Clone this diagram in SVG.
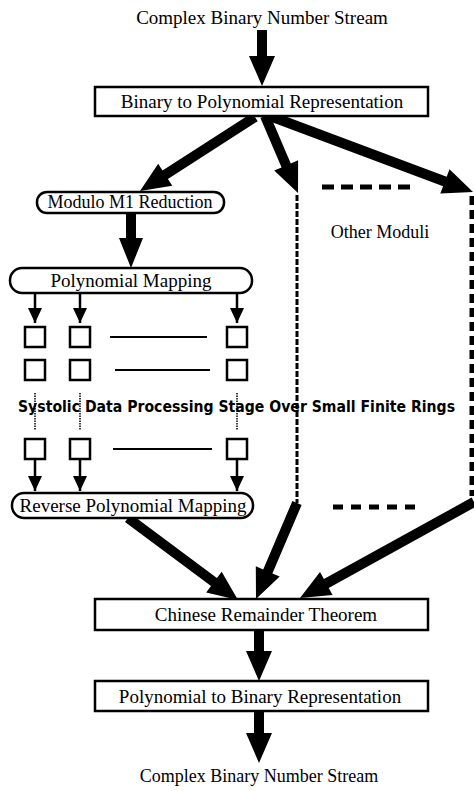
<svg xmlns="http://www.w3.org/2000/svg" width="474" height="791" viewBox="0 0 474 791">
<style>
.lbl{font-family:"Liberation Serif","Times New Roman",serif;font-size:19px;fill:#000;text-anchor:middle}
.box{fill:#fff;stroke:#000;stroke-width:2.5}
.sq{fill:#fff;stroke:#000;stroke-width:2.5}
.fat{fill:#000;stroke:none}
.thin{stroke:#000;stroke-width:2.5;fill:none}
.rough{stroke:#000;stroke-width:1.8}
.dot{stroke:#000;stroke-width:1.5;stroke-dasharray:1.5 1}
.hand{font-family:"DejaVu Sans","Comic Sans MS",sans-serif;font-weight:bold;font-size:16px;fill:#000}
</style>
<defs>
<marker id="ah" markerUnits="userSpaceOnUse" markerWidth="16" markerHeight="16" viewBox="0 0 16 16" refX="15" refY="8" orient="auto">
<path d="M0,1 L15,8 L0,15 z" fill="#000"/>
</marker>
</defs>
<rect width="474" height="791" fill="#fff"/>

<g id="connectors">
<polygon class="fat" points="267,30 267,56 275,56 262,86 249,56 257,56 257,30"/>
<polygon class="fat" points="257.7,121.2 167.9,179.0 172.3,185.7 140,191 158.2,163.8 162.5,170.6 252.3,112.8"/>
<polygon class="fat" points="269.6,114.0 290.8,163.5 298.1,160.3 298,193 274.2,170.6 281.6,167.4 260.4,118.0"/>
<polygon class="fat" points="271.8,111.3 446.7,176.8 449.5,169.3 473,192 440.3,193.6 443.1,186.2 268.2,120.7"/>
<polygon class="fat" points="136,213 136,238 143,238 131,268 119,238 126,238 126,213"/>
<polygon class="fat" points="131.0,514.0 216.9,578.1 221.7,571.7 238,600 206.2,592.5 211.0,586.1 125.0,522.0"/>
<polygon class="fat" points="301.6,505.0 272.4,573.4 279.7,576.5 256,599 255.8,566.3 263.2,569.4 292.4,501.0"/>
<polygon class="fat" points="476.4,506.4 328.7,587.9 332.6,594.9 300,598 320.0,572.1 323.9,579.1 471.6,497.6"/>
<polygon class="fat" points="264,630 264,651 272,651 259,681 246,651 254,651 254,630"/>
<polygon class="fat" points="264,711 264,733 272,733 259,763 246,733 254,733 254,711"/>
<line class="thin" x1="35" y1="293" x2="35" y2="323" marker-end="url(#ah)"/>
<line class="thin" x1="80" y1="293" x2="80" y2="323" marker-end="url(#ah)"/>
<line class="thin" x1="237" y1="293" x2="237" y2="323" marker-end="url(#ah)"/>
<line class="thin" x1="35" y1="460" x2="35" y2="491" marker-end="url(#ah)"/>
<line class="thin" x1="80" y1="460" x2="80" y2="491" marker-end="url(#ah)"/>
<line class="thin" x1="237" y1="460" x2="237" y2="491" marker-end="url(#ah)"/>
<line class="dot" x1="35" y1="393" x2="35" y2="430"/>
<line class="dot" x1="80" y1="393" x2="80" y2="430"/>
<line class="dot" x1="237" y1="393" x2="237" y2="430"/>
<line stroke="#000" stroke-width="3" stroke-dasharray="6 2" x1="297" y1="195" x2="297" y2="503"/>
<line stroke="#000" stroke-width="5" stroke-dasharray="9 5" x1="472" y1="196" x2="472" y2="496"/>
<line stroke="#000" stroke-width="5" stroke-dasharray="12 7" x1="322" y1="187" x2="413" y2="187"/>
<line stroke="#000" stroke-width="5" stroke-dasharray="10 8" x1="333" y1="507" x2="415" y2="507"/>
</g>

<g id="grid">
<rect class="sq" x="25" y="327" width="20" height="20"/>
<rect class="sq" x="70" y="327" width="20" height="20"/>
<rect class="sq" x="227" y="327" width="20" height="20"/>
<line class="rough" x1="110" y1="337" x2="207" y2="337"/>
<rect class="sq" x="25" y="360" width="20" height="20"/>
<rect class="sq" x="70" y="360" width="20" height="20"/>
<rect class="sq" x="227" y="360" width="20" height="20"/>
<line class="rough" x1="115" y1="370" x2="210" y2="370"/>
<rect class="sq" x="25" y="439" width="20" height="20"/>
<rect class="sq" x="70" y="439" width="20" height="20"/>
<rect class="sq" x="227" y="439" width="20" height="20"/>
<line class="rough" x1="113" y1="449" x2="212" y2="449"/>
</g>

<g id="input"><text class="lbl" x="262" y="24" font-size="18">Complex Binary Number Stream</text></g>
<g id="bin2poly"><rect class="box" x="95" y="87" width="333" height="29"/><text class="lbl" x="262" y="108">Binary to Polynomial Representation</text></g>
<g id="modulo"><rect class="box" x="37" y="192" width="187" height="21" rx="10"/><text class="lbl" x="130" y="208" style="font-size:18px">Modulo M1 Reduction</text></g>
<g id="polymap"><rect class="box" x="10" y="268" width="242" height="25" rx="12"/><text class="lbl" x="131" y="287">Polynomial Mapping</text></g>
<g id="systolic"><text class="hand" x="18" y="412" textLength="437" lengthAdjust="spacingAndGlyphs">Systolic Data Processing Stage Over Small Finite Rings</text></g>
<g id="revmap"><rect class="box" x="12" y="493" width="241" height="25" rx="12"/><text class="lbl" x="133" y="512">Reverse Polynomial Mapping</text></g>
<g id="other"><text class="lbl" x="380" y="238" style="font-size:18px">Other Moduli</text></g>
<g id="crt"><rect class="box" x="95" y="599" width="333" height="31"/><text class="lbl" x="266" y="621">Chinese Remainder Theorem</text></g>
<g id="poly2bin"><rect class="box" x="95" y="681" width="333" height="30"/><text class="lbl" x="260" y="703">Polynomial to Binary Representation</text></g>
<g id="output"><text class="lbl" x="259" y="782" style="font-size:18px">Complex Binary Number Stream</text></g>
</svg>
